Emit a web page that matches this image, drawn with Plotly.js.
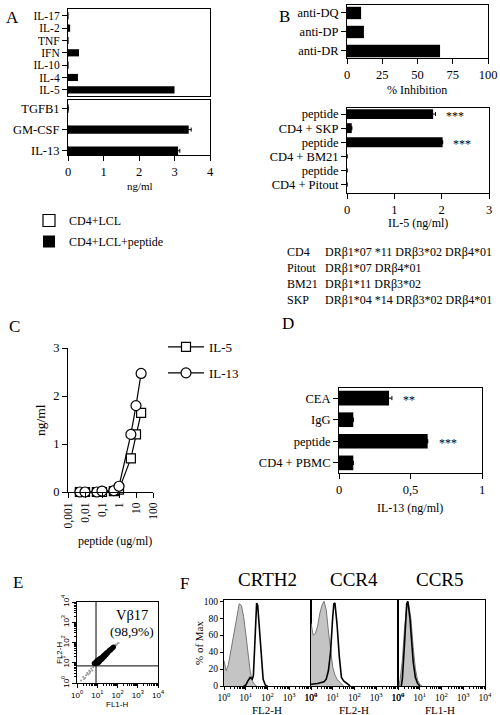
<!DOCTYPE html>
<html><head><meta charset="utf-8">
<script src="https://cdn.plot.ly/plotly-3.0.1.min.js"></script>
<style>html,body{margin:0;padding:0;background:#fff}</style>
</head><body><div id="fig" style="width:500px;height:715px"></div>
<script>
// ---- Panel A: cytokines secreted (ng/ml)
const cytoTop = ['IL-17','IL-2','TNF','IFN','IL-10','IL-4','IL-5'];
const cytoTopPeptide = [0, 0.06, 0, 0.31, 0, 0.28, 3.0];
const cytoTopLCL = [0, 0, 0, 0, 0, 0, 0];
const cytoBottom = ['TGFB1','GM-CSF','IL-13'];
const cytoBottomPeptide = [0, 3.4, 3.1];
const cytoBottomErr = [null, 0.07, 0.05];
const cytoBottomLCL = [0, 0, 0];
const ngTicks = [0, 1, 2, 3, 4];

// ---- Panel B: HLA blocking and restriction
const blockLabels = ['anti-DQ','anti-DP','anti-DR'];
const blockInhibition = [10, 12, 66];
const inhibTicks = [0, 25, 50, 75, 100];
const apcLabels = ['peptide','CD4 + SKP','peptide','CD4 + BM21','peptide','CD4 + Pitout'];
const apcIL5 = [1.82, 0.1, 2.02, 0, 0, 0];
const apcIL5Err = [0.05, null, null, null, null, null];
const apcSig = ['***', '', '***', '', '', ''];
const il5Ticks = [0, 1, 2, 3];
const hlaNames = ['CD4','Pitout','BM21','SKP'];
const hlaTypes = ['DRβ1*07 *11 DRβ3*02 DRβ4*01','DRβ1*07 DRβ4*01','DRβ1*11 DRβ3*02','DRβ1*04 *14 DRβ3*02 DRβ4*01'];

// ---- Panel C: peptide dose response
const peptideDose = [0.005, 0.01, 0.05, 0.1, 0.5, 1, 5, 10, 20];
const doseIL5  = [0, 0, 0, 0, 0.02, 0.05, 0.7, 1.2, 1.65];
const doseIL13 = [0, 0, 0, 0.02, 0.03, 0.12, 1.2, 1.8, 2.47];
const doseTickVals = [0.001, 0.01, 0.1, 1, 10, 100];
const doseTickText = ['0,001','0,01','0,1','1','10','100'];
const ngTicksC = [0, 1, 2, 3];

// ---- Panel D: IL-13 after PBMC stimulation
const stimLabels = ['CEA','IgG','peptide','CD4 + PBMC'];
const stimIL13 = [0.35, 0.1, 0.62, 0.1];
const stimErr = [0.02, null, null, null];
const stimSig = ['**', '', '***', ''];
const il13TickVals = [0, 0.5, 1];
const il13TickText = ['0','0,5','1'];

// ---- Panel E: Vβ17 staining (log10 of FL1-H / FL2-H)
const eDenseLogX = [0.85,0.9,0.92,0.95,0.98,1.0,1.0,1.03,1.05,1.05,1.08,1.1,1.1,1.12,1.15,1.15,1.18,1.2,1.2,1.22,1.25,1.25,1.28,1.3,1.3,1.33,1.35,1.35,1.38,1.4,1.42,1.45,1.45,1.48,1.5,1.52,1.55,1.58,1.6,1.62,1.65,1.68,1.72,1.76,1.8];
const eDenseLogY = [0.98,0.95,1.04,1.0,1.08,0.97,1.12,1.03,1.1,1.0,1.15,1.05,1.18,1.1,1.14,1.22,1.18,1.25,1.15,1.22,1.28,1.2,1.3,1.34,1.26,1.32,1.38,1.3,1.4,1.43,1.38,1.48,1.42,1.47,1.52,1.5,1.55,1.58,1.62,1.6,1.65,1.66,1.7,1.74,1.78];
const eSparseLogX = [0.2,0.3,0.35,0.45,0.5,0.55,0.6,0.65,0.7,0.75,0.8,0.4,0.62,1.85,1.9,1.95,2.0,2.05];
const eSparseLogY = [0.12,0.3,0.2,0.38,0.5,0.42,0.6,0.55,0.7,0.62,0.78,0.25,0.48,1.82,1.9,1.86,1.95,1.98];
const eGateX = 8.7, eGateY = 7;
const flowTickVals = [1, 10, 100, 1000, 10000];
const flowTickText = ['10<sup>0</sup>','10<sup>1</sup>','10<sup>2</sup>','10<sup>3</sup>','10<sup>4</sup>'];

// ---- Panel F: chemokine receptor histograms (log10 intensity, % of max)
const fTitles = ['CRTH2','CCR4','CCR5'];
const fChannels = ['FL2-H','FL2-H','FL1-H'];
const isoLogX = [
  [0,0.1,0.2,0.3,0.4,0.5,0.6,0.7,0.8,0.9,1.0,1.1,1.2,1.3,1.4,1.5],
  [0,0.1,0.2,0.3,0.4,0.5,0.6,0.7,0.8,0.9,1.0,1.1,1.2,1.3,1.4,1.5],
  [0.05,0.1,0.2,0.3,0.4,0.45,0.5,0.6,0.7,0.8,0.9,1.0,1.1]
];
const isoPct = [
  [30,18,25,40,52,68,85,97,95,82,62,42,18,6,2,0],
  [74,60,62,70,85,95,100,90,65,40,22,13,8,5,2,0],
  [0,8,30,68,92,100,96,78,45,20,7,2,0]
];
const stainLogX = [
  [0.9,1.0,1.1,1.2,1.3,1.35,1.4,1.45,1.5,1.55,1.6,1.7,1.8,1.9,2.0],
  [0,0.3,0.6,0.7,0.8,0.9,1.0,1.05,1.1,1.2,1.3,1.4,1.5,1.6,1.7,1.8],
  [0.15,0.2,0.3,0.35,0.4,0.45,0.5,0.55,0.6,0.7,0.8,0.9,1.0]
];
const stainPct = [
  [0,1,6,10,8,12,40,80,98,95,75,35,8,1,0],
  [2,3,5,8,18,40,82,97,98,72,35,10,6,4,1,0],
  [0,8,50,85,97,100,92,80,62,28,10,3,0]
];
const pctTicks = [0, 20, 40, 60, 80, 100];

// ---------------------------------------------------------------
const SERIF = 'Liberation Serif, Times New Roman, serif';
const NARROW = 'Liberation Sans Narrow, Liberation Sans, Arial, sans-serif';
const FS = 12.5;
const W = 500, H = 715;
const dx = (a, b) => [a / W, b / W];
const dy = (t, b) => [1 - b / H, 1 - t / H];
const pow10 = v => Math.pow(10, v);
const idx = arr => arr.map((_, i) => i);

const base = {
  showgrid: false, zeroline: false, showline: true, linecolor: '#000', linewidth: 1,
  ticks: 'outside', ticklen: 5, tickwidth: 1, tickcolor: '#000',
  tickfont: {family: SERIF, size: FS, color: '#000'}, fixedrange: true
};
const ax = o => Object.assign({}, base, o);
const catAxis = (cats, o) => ax(Object.assign({type:'category', categoryorder:'array', categoryarray: cats,
  tickmode:'array', tickvals: cats, mirror:true}, o));

const traces = [];
// A
traces.push({type:'bar', orientation:'h', y: cytoTop, x: cytoTopLCL, xaxis:'x', yaxis:'y', width:0.58,
  name:'CD4+LCL', legendgroup:'a1', marker:{color:'#fff', line:{color:'#000', width:1.2}}});
traces.push({type:'bar', orientation:'h', y: cytoTop, x: cytoTopPeptide, xaxis:'x', yaxis:'y', width:0.58,
  name:'CD4+LCL+peptide', legendgroup:'a2', marker:{color:'#000', line:{width:0}}});
traces.push({type:'bar', orientation:'h', y: cytoBottom, x: cytoBottomLCL, xaxis:'x2', yaxis:'y2', width:0.4,
  showlegend:false, marker:{color:'#fff', line:{color:'#000', width:1.2}}});
traces.push({type:'bar', orientation:'h', y: cytoBottom, x: cytoBottomPeptide, xaxis:'x2', yaxis:'y2', width:0.4,
  showlegend:false, marker:{color:'#000', line:{width:0}},
  error_x:{type:'data', array: cytoBottomErr, color:'#000', thickness:1, width:2}});
// B
traces.push({type:'bar', orientation:'h', y: blockLabels, x: blockInhibition, xaxis:'x3', yaxis:'y3', width:0.65,
  showlegend:false, marker:{color:'#000', line:{width:0}}});
traces.push({type:'bar', orientation:'h', y: idx(apcLabels), x: apcIL5, xaxis:'x4', yaxis:'y4', width:0.7,
  showlegend:false, marker:{color:'#000', line:{width:0}},
  error_x:{type:'data', array: apcIL5Err, color:'#000', thickness:1, width:2}});
// C
traces.push({type:'scatter', mode:'lines+markers', x: peptideDose, y: doseIL5, xaxis:'x5', yaxis:'y5',
  name:'IL-5', legend:'legend2', legendgroup:'c1', cliponaxis:false, line:{color:'#000', width:1.2},
  marker:{symbol:'square', size:9, color:'#fff', line:{color:'#000', width:1.2}}});
traces.push({type:'scatter', mode:'lines+markers', x: peptideDose, y: doseIL13, xaxis:'x5', yaxis:'y5',
  name:'IL-13', legend:'legend2', legendgroup:'c2', cliponaxis:false, line:{color:'#000', width:1.2},
  marker:{symbol:'circle', size:10, color:'#fff', line:{color:'#000', width:1.2}}});
// D
traces.push({type:'bar', orientation:'h', y: stimLabels, x: stimIL13, xaxis:'x6', yaxis:'y6', width:0.68,
  showlegend:false, marker:{color:'#000', line:{width:0}},
  error_x:{type:'data', array: stimErr, color:'#000', thickness:1, width:2}});
// E
traces.push({type:'scatter', mode:'markers', x: eSparseLogX.map(pow10), y: eSparseLogY.map(pow10),
  xaxis:'x7', yaxis:'y7', showlegend:false, marker:{size:2, color:'#999'}});
traces.push({type:'scatter', mode:'markers', x: eDenseLogX.map(pow10), y: eDenseLogY.map(pow10),
  xaxis:'x7', yaxis:'y7', showlegend:false, marker:{size:5, color:'#000'}});
// F
for (let k = 0; k < 3; k++) {
  const xa = 'x' + (8 + k), ya = 'y' + (8 + k);
  traces.push({type:'scatter', mode:'lines', x: isoLogX[k].map(pow10), y: isoPct[k], xaxis: xa, yaxis: ya,
    showlegend:false, fill:'tozeroy', fillcolor:'#c4c4c4', line:{color:'#777', width:1}});
  traces.push({type:'scatter', mode:'lines', x: stainLogX[k].map(pow10), y: stainPct[k], xaxis: xa, yaxis: ya,
    showlegend:false, line:{color:'#000', width:1.6}});
}

const layout = {
  width: W, height: H, margin: {l:0, r:0, t:0, b:0},
  paper_bgcolor: '#fff', plot_bgcolor: '#fff',
  barmode: 'overlay', hovermode: false, showlegend: true,
  font: {family: SERIF, color: '#000'},
  legend: {x: 0.058, y: 1 - 206/H, xanchor:'left', yanchor:'top', bgcolor:'rgba(0,0,0,0)',
    font:{family: SERIF, size: 12, color:'#000'}, tracegroupgap: 2, traceorder:'grouped'},
  legend2: {x: 163/W, y: 1 - 332/H, xanchor:'left', yanchor:'top', bgcolor:'rgba(0,0,0,0)',
    font:{family: SERIF, size: 13, color:'#000'}, itemwidth: 36, tracegroupgap: 6},

  xaxis: ax({domain: dx(68,210), anchor:'y', range:[0,4], mirror:true, ticks:'', showticklabels:false}),
  yaxis: catAxis(cytoTop, {domain: dy(9,96), anchor:'x', range:[6.5,-0.55],
    tickfont:{family: SERIF, size: 11.5, color:'#000'}}),
  xaxis2: ax({domain: dx(68,210), anchor:'y2', range:[0,4], tickvals: ngTicks, mirror:true}),
  yaxis2: catAxis(cytoBottom, {domain: dy(100,155), anchor:'x2', range:[2.2,-0.4]}),

  xaxis3: ax({domain: dx(347,488), anchor:'y3', range:[0,100], tickvals: inhibTicks, mirror:true}),
  yaxis3: catAxis(blockLabels, {domain: dy(5,58), anchor:'x3', range:[2.37,-0.42]}),
  xaxis4: ax({domain: dx(347,489), anchor:'y4', range:[0,3], tickvals: il5Ticks, mirror:true}),
  yaxis4: ax({domain: dy(108,193), anchor:'x4', range:[5.6,-0.43], tickvals: idx(apcLabels), ticktext: apcLabels,
    mirror:true}),

  xaxis5: ax({domain: dx(68,153), anchor:'y5', type:'log', range:[-3,2], tickvals: doseTickVals,
    ticktext: doseTickText, tickangle:-90, tickfont:{family: SERIF, size: 11.5, color:'#000'}}),
  yaxis5: ax({domain: dy(348,492), anchor:'x5', range:[0,3], tickvals: ngTicksC}),

  xaxis6: ax({domain: dx(339,482), anchor:'y6', range:[0,1], tickvals: il13TickVals, ticktext: il13TickText,
    mirror:true}),
  yaxis6: catAxis(stimLabels, {domain: dy(388,473), anchor:'x6', range:[3.47,-0.47]}),

  xaxis7: ax({domain: dx(77,158), anchor:'y7', type:'log', range:[0,4], tickvals: flowTickVals, ticktext: flowTickText,
    mirror:true, ticklen:4, tickfont:{family: NARROW, size:8, color:'#000'},
    minor:{ticks:'outside', ticklen:2, dtick:'D1', tickcolor:'#000', showgrid:false}}),
  yaxis7: ax({domain: dy(602,683), anchor:'x7', type:'log', range:[0,4], tickvals: flowTickVals, ticktext: flowTickText,
    tickangle:-90, mirror:true, ticklen:4, tickfont:{family: NARROW, size:8, color:'#000'},
    minor:{ticks:'outside', ticklen:2, dtick:'D1', tickcolor:'#000', showgrid:false}}),

  shapes: [
    {type:'line', xref:'x7', yref:'y7 domain', x0:eGateX, x1:eGateX, y0:0, y1:1, line:{color:'#000', width:1}},
    {type:'line', xref:'x7 domain', yref:'y7', x0:0, x1:1, y0:eGateY, y1:eGateY, line:{color:'#000', width:1}}
  ],
  annotations: []
};

const fDomains = [[224,311],[311,398],[398,485]];
for (let k = 0; k < 3; k++) {
  layout['xaxis' + (8 + k)] = ax({domain: dx(...fDomains[k]), anchor: 'y' + (8 + k), type:'log', range:[0,4],
    tickvals: flowTickVals, ticktext: flowTickText, mirror:true, ticklen:3,
    tickfont:{family: SERIF, size:9.5, color:'#000'},
    minor:{ticks:'outside', ticklen:2, dtick:'D1', tickcolor:'#000', showgrid:false}});
  layout['yaxis' + (8 + k)] = ax({domain: dy(600,686), anchor: 'x' + (8 + k), range:[0,101.5],
    tickvals: pctTicks, mirror:true, ticklen:3, showticklabels: k === 0, ticks: k === 0 ? 'outside' : '',
    tickfont:{family: SERIF, size:9.5, color:'#000'}});
}

const A = layout.annotations;
function txt(x, y, text, size, extra) {
  A.push(Object.assign({xref:'paper', yref:'paper', x: x / W, y: 1 - y / H, text, showarrow:false,
    xanchor:'center', yanchor:'middle', font:{family: SERIF, size, color:'#000'}}, extra || {}));
}
// panel letters
[['A',12,18],['B',284,16],['C',14,326],['D',288,323],['E',18,582],['F',184,583]]
  .forEach(([t,x,y]) => txt(x, y, t, 17));
// axis titles
txt(140, 186, 'ng/ml', 11);
txt(417, 90, '% Inhibition', 12);
txt(418, 223, 'IL-5 (ng/ml)', 12);
txt(40, 420, 'ng/ml', 13.5, {textangle:-90});
txt(115, 541, 'peptide (ug/ml)', 12);
txt(410, 508, 'IL-13 (ng/ml)', 12);
// HLA genotypes
hlaNames.forEach((n, i) => {
  const y = 252 + i * 16;
  txt(285, y, n, 12, {xanchor:'left'});
  txt(323, y, hlaTypes[i], 12, {xanchor:'left'});
});
// significance marks
apcSig.forEach((s, i) => { if (s) A.push({xref:'x4', yref:'y4', x: apcIL5[i] + (apcIL5Err[i] || 0), y: i,
  text: s, showarrow:false, xanchor:'left', yanchor:'middle', xshift:8, yshift:-2,
  font:{family: SERIF, size:12, color:'#000'}}); });
stimSig.forEach((s, i) => { if (s) A.push({xref:'x6', yref:'y6', x: stimIL13[i] + (stimErr[i] || 0), y: stimLabels[i],
  text: s, showarrow:false, xanchor:'left', yanchor:'middle', xshift:9, yshift:-2,
  font:{family: SERIF, size:12, color:'#000'}}); });
// E labels
txt(132, 615, 'Vβ17', 14.5);
txt(132, 631, '(98,9%)', 13.5);
txt(117, 704, 'FL1-H', 8, {font:{family: NARROW, size:8, color:'#000'}});
txt(59, 653, 'FL2-H', 8, {textangle:-90, font:{family: NARROW, size:8, color:'#000'}});
// F labels
[267, 354, 440].forEach((x, k) => {
  txt(x, 579, fTitles[k], 19);
  txt(x, 710, fChannels[k], 11);
});
txt(199, 643, '% of Max', 11, {textangle:-90});

Plotly.newPlot('fig', traces, layout, {staticPlot:true, displayModeBar:false});
</script></body></html>
